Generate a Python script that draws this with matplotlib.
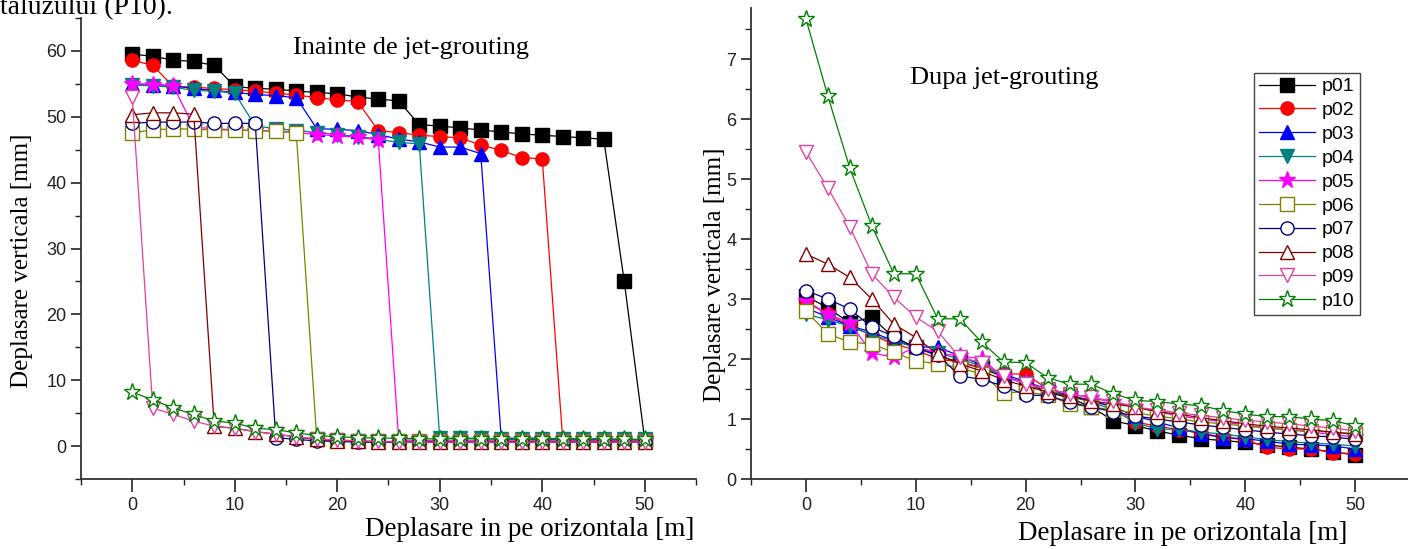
import matplotlib
matplotlib.use("Agg")
import matplotlib.pyplot as plt
from matplotlib.ticker import MultipleLocator

# distance along the section [m]
dist = [0, 2, 4, 6, 8, 10, 12, 14, 16, 18, 20, 22, 24, 26, 28, 30,
        32, 34, 36, 38, 40, 42, 44, 46, 48, 50]

names = ["p01", "p02", "p03", "p04", "p05", "p06", "p07", "p08", "p09", "p10"]

# --- before jet-grouting (left) ---
p01_a = [59.5, 59.2, 58.6, 58.4, 57.8, 54.6, 54.3, 54.2, 53.9, 53.7, 53.5, 53.0, 52.7,
         52.4, 48.8, 48.6, 48.3, 48.0, 47.7, 47.4, 47.2, 47.0, 46.8, 46.6, 25.0, 0.9]
p02_a = [58.6, 57.8, 54.6, 54.5, 54.3, 54.1, 53.9, 53.6, 53.3, 52.9, 52.6, 52.3, 47.9,
         47.6, 47.2, 47.0, 46.8, 45.7, 44.9, 43.8, 43.6, 0.9, 0.9, 0.9, 0.8, 0.8]
p03_a = [55.0, 54.9, 54.7, 54.3, 54.0, 53.7, 53.4, 53.2, 52.9, 48.2, 48.1, 47.9, 47.3,
         46.6, 46.2, 45.4, 45.4, 44.4, 1.2, 1.2, 1.2, 1.1, 1.1, 1.1, 1.0, 1.0]
p04_a = [54.8, 54.7, 54.5, 54.0, 53.9, 53.6, 48.6, 48.2, 47.9, 47.6, 47.3, 47.0, 46.6,
         46.1, 45.9, 1.2, 1.2, 1.2, 1.1, 1.1, 1.1, 1.0, 1.0, 1.0, 1.0, 1.0]
p05_a = [55.0, 54.9, 54.7, 48.4, 48.2, 48.0, 47.9, 47.8, 47.6, 47.3, 47.1, 46.9, 46.5,
         0.9, 0.9, 0.8, 0.8, 0.8, 0.8, 0.8, 0.8, 0.8, 0.8, 0.8, 0.8, 0.8]
p06_a = [47.6, 48.0, 48.2, 48.1, 48.0, 48.0, 47.9, 47.8, 47.6, 1.1, 0.9, 0.8, 0.7,
         0.7, 0.7, 0.7, 0.7, 0.7, 0.7, 0.7, 0.7, 0.7, 0.7, 0.7, 0.7, 0.7]
p07_a = [49.0, 49.2, 49.2, 49.2, 49.0, 49.0, 49.0, 1.3, 1.0, 0.8, 0.7, 0.6, 0.6,
         0.6, 0.6, 0.6, 0.6, 0.6, 0.6, 0.6, 0.6, 0.6, 0.6, 0.6, 0.6, 0.6]
p08_a = [50.3, 50.6, 50.6, 50.4, 3.0, 2.7, 2.2, 1.8, 1.4, 1.0, 0.8, 0.7, 0.6,
         0.6, 0.6, 0.6, 0.6, 0.6, 0.6, 0.6, 0.6, 0.6, 0.6, 0.6, 0.6, 0.6]
p09_a = [53.0, 5.8, 4.8, 3.8, 3.0, 2.7, 2.2, 1.8, 1.4, 1.1, 0.9, 0.8, 0.7,
         0.6, 0.6, 0.6, 0.6, 0.6, 0.6, 0.6, 0.6, 0.6, 0.6, 0.6, 0.6, 0.6]
p10_a = [8.2, 7.0, 5.8, 4.8, 3.8, 3.5, 2.7, 2.5, 2.0, 1.6, 1.4, 1.3, 1.2,
         1.2, 1.1, 1.1, 1.1, 1.1, 1.0, 1.0, 1.0, 1.0, 1.0, 1.0, 1.0, 1.0]

# --- after jet-grouting (right) ---
p01_b = [3.05, 2.85, 2.6, 2.7, 2.35, 2.2, 2.05, 1.95, 1.85, 1.7, 1.6, 1.45, 1.35,
         1.2, 0.97, 0.89, 0.80, 0.73, 0.67, 0.64, 0.61, 0.57, 0.53, 0.50, 0.45, 0.40]
p02_b = [2.95, 2.75, 2.55, 2.4, 2.25, 2.15, 2.0, 1.95, 1.85, 1.75, 1.75, 1.5, 1.4,
         1.3, 1.2, 0.95, 0.88, 0.82, 0.76, 0.70, 0.65, 0.53, 0.50, 0.50, 0.44, 0.42]
p03_b = [2.85, 2.7, 2.55, 2.45, 2.3, 2.2, 2.2, 2.05, 1.9, 1.75, 1.62, 1.5, 1.4,
         1.3, 1.2, 1.05, 0.95, 0.85, 0.75, 0.69, 0.67, 0.63, 0.58, 0.57, 0.55, 0.50]
p04_b = [2.75, 2.65, 2.55, 2.4, 2.3, 2.2, 2.1, 2.0, 1.88, 1.72, 1.6, 1.48, 1.38,
         1.28, 1.15, 0.94, 0.83, 0.83, 0.78, 0.75, 0.70, 0.66, 0.62, 0.60, 0.58, 0.55]
p05_b = [2.97, 2.75, 2.6, 2.1, 2.03, 2.2, 2.1, 2.05, 2.0, 1.7, 1.6, 1.5, 1.42,
         1.35, 1.28, 1.2, 1.12, 1.05, 1.0, 0.95, 0.9, 0.85, 0.82, 0.78, 0.74, 0.70]
p06_b = [2.8, 2.42, 2.28, 2.25, 2.11, 1.97, 1.92, 1.85, 1.75, 1.44, 1.45, 1.4, 1.25,
         1.2, 1.15, 1.1, 1.05, 1.0, 0.95, 0.92, 0.88, 0.85, 0.82, 0.8, 0.78, 0.75]
p07_b = [3.14, 3.0, 2.83, 2.53, 2.38, 2.18, 2.07, 1.72, 1.66, 1.55, 1.4, 1.39, 1.28,
         1.2, 1.12, 1.05, 1.0, 0.95, 0.9, 0.86, 0.82, 0.78, 0.75, 0.72, 0.7, 0.66]
p08_b = [3.75, 3.58, 3.36, 3.0, 2.58, 2.36, 2.08, 1.92, 1.8, 1.65, 1.55, 1.45, 1.38,
         1.3, 1.25, 1.2, 1.12, 1.08, 1.02, 0.97, 0.92, 0.88, 0.85, 0.82, 0.78, 0.75]
p09_b = [5.45, 4.85, 4.2, 3.42, 3.03, 2.7, 2.46, 2.03, 1.94, 1.72, 1.58, 1.5, 1.42,
         1.36, 1.3, 1.2, 1.15, 1.1, 1.06, 1.02, 0.98, 0.95, 0.92, 0.88, 0.85, 0.8]
p10_b = [7.67, 6.38, 5.18, 4.22, 3.42, 3.42, 2.67, 2.67, 2.28, 1.95, 1.94, 1.69, 1.58,
         1.58, 1.42, 1.31, 1.29, 1.25, 1.22, 1.14, 1.08, 1.04, 1.04, 1.0, 0.97, 0.89]

before = [p01_a, p02_a, p03_a, p04_a, p05_a, p06_a, p07_a, p08_a, p09_a, p10_a]
after = [p01_b, p02_b, p03_b, p04_b, p05_b, p06_b, p07_b, p08_b, p09_b, p10_b]

colors = ["#000000", "#ff0000", "#0000ff", "#008080", "#ff00ff",
          "#808000", "#000080", "#800000", "#e0409f", "#008000"]
markers = ["s", "o", "^", "v", "*", "s", "o", "^", "v", "*"]
filled = [True, True, True, True, True, False, False, False, False, False]

serif = "Liberation Serif"
sans = "Liberation Sans"
plt.rcParams["font.family"] = [sans, "DejaVu Sans"]

W, H = 1408, 549
fig = plt.figure(figsize=(W / 100, H / 100), dpi=100)


def draw(ax, data):
    for i in range(10):
        ms = 12.5 if markers[i] == "*" else 9.5
        ax.plot(dist, data[i], color=colors[i], lw=0.9, marker=markers[i], ms=ms,
                mec=colors[i], mfc=colors[i] if filled[i] else "white", mew=1.0,
                label=names[i])
    for s in ["top", "right"]:
        ax.spines[s].set_visible(False)
    for s in ["left", "bottom"]:
        ax.spines[s].set_linewidth(1.3)
        ax.spines[s].set_color("#333333")
    ax.xaxis.set_major_locator(MultipleLocator(10))
    ax.xaxis.set_minor_locator(MultipleLocator(5))
    ax.tick_params(which="major", direction="out", length=7, width=1.2,
                   labelsize=13, colors="#222222")
    ax.tick_params(which="minor", direction="out", length=4, width=1.0, colors="#222222")
    ax.tick_params(axis="x", which="major", length=9, pad=4)
    ax.set_xlim(-5, 55)
    ax.set_xticks([0, 10, 20, 30, 40, 50])


ax1 = fig.add_axes([81 / W, 1 - 479 / H, 615 / W, 461 / H])
draw(ax1, before)
ax1.set_ylim(-5, 65)
ax1.yaxis.set_major_locator(MultipleLocator(10))
ax1.yaxis.set_minor_locator(MultipleLocator(5))
ax1.set_yticks([0, 10, 20, 30, 40, 50, 60])

ax2 = fig.add_axes([751 / W, 1 - 479 / H, 659 / W, 471 / H])
draw(ax2, after)
ax2.set_ylim(0, 7.85)
ax2.yaxis.set_major_locator(MultipleLocator(1))
ax2.yaxis.set_minor_locator(MultipleLocator(0.5))

ax2.legend(loc="upper left", bbox_to_anchor=(1254 / W, 1 - 73 / H),
           bbox_transform=fig.transFigure, borderaxespad=0, frameon=True,
           fancybox=False, edgecolor="#444444", framealpha=1, borderpad=0.25,
           labelspacing=0.32, handlelength=2.9, handletextpad=0.35,
           prop={"family": sans, "size": 14})


def ftext(x, y, s, **kw):
    fig.text(x / W, 1 - y / H, s, family=serif, ha="center", va="center", **kw)


ftext(411, 48, "Inainte de jet-grouting", size=19)
ftext(1004, 78, "Dupa jet-grouting", size=19)
ftext(530, 530, "Deplasare in pe orizontala [m]", size=19.5)
ftext(1183, 534, "Deplasare in pe orizontala [m]", size=19.5)
ftext(22, 261, "Deplasare verticala [mm]", size=18, rotation=90)
ftext(715, 275, "Deplasare verticala [mm]", size=18, rotation=90)
fig.text(0, 1 - 14 / H, "taluzului (P10).", family=serif, size=20,
         ha="left", va="baseline")

fig.savefig("out.png", dpi=100)
